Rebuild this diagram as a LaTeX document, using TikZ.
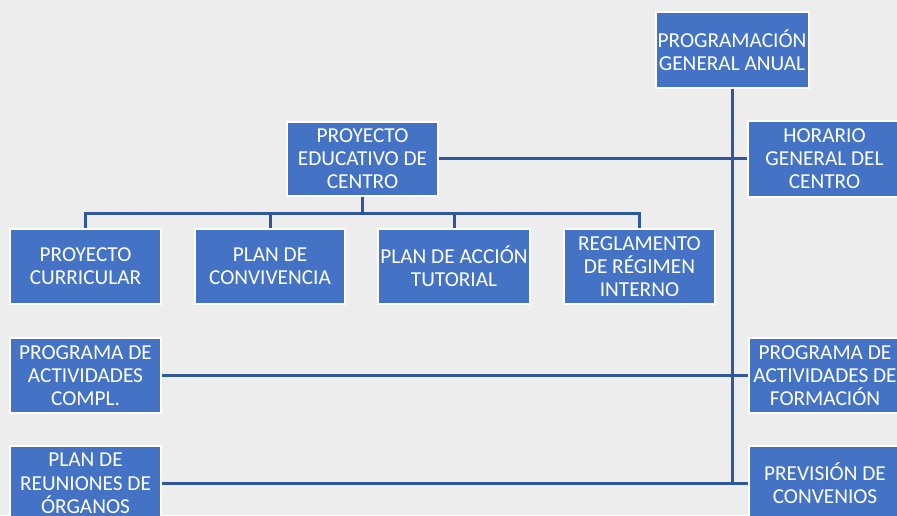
\documentclass[tikz,border=0pt]{standalone}
\usepackage{fontspec}
\setmainfont{Carlito}
\definecolor{bg}{HTML}{EDEDED}
\definecolor{boxblue}{HTML}{4472C4}
\definecolor{linkblue}{HTML}{3156A0}
\begin{document}
\begin{tikzpicture}[x=1pt,y=-1pt,
  box/.style={rectangle, fill=boxblue, draw=white, line width=2pt, text=white,
    minimum width=151pt, minimum height=75pt, inner sep=0pt, align=center,
    font=\fontsize{21.3}{23.3}\selectfont},
  link/.style={draw=linkblue, line width=3pt}]
\fill[bg] (0,0) rectangle (897,515);
\useasboundingbox (0,0) rectangle (897,515);

\node[box, minimum width=153pt, minimum height=76pt] (pga) at (732,50) {PROGRAMACIÓN\\GENERAL ANUAL};
\node[box, minimum height=74pt] (pec) at (362.5,158.5) {PROYECTO\\EDUCATIVO DE\\CENTRO};
\node[box, minimum width=153pt, minimum height=76pt] (hor) at (824.5,158.5) {HORARIO\\GENERAL DEL\\CENTRO};

\node[box] (pc) at (85.5,266.5) {PROYECTO\\CURRICULAR};
\node[box, minimum width=150pt] (conv) at (270,266.5) {PLAN DE\\CONVIVENCIA};
\node[box, minimum width=152pt] (pat) at (454,266.5) {PLAN DE ACCIÓN\\TUTORIAL};
\node[box] (rri) at (639.5,266.5) {REGLAMENTO\\DE RÉGIMEN\\INTERNO};

\node[box] (pac) at (85.5,375.5) {PROGRAMA DE\\ACTIVIDADES\\COMPL.};
\node[box, minimum width=152pt] (paf) at (825,375.5) {PROGRAMA DE\\ACTIVIDADES DE\\FORMACIÓN};

\node[box] (pro) at (85.5,483.5) {PLAN DE\\REUNIONES DE\\ÓRGANOS};
\node[box, minimum width=152pt] (prev) at (825,483.5) {PREVISIÓN DE\\CONVENIOS};

\coordinate (bot) at (732,483.5);
\coordinate (bus) at (362.5,213);

\draw[link] (pga.south) -- (bot) -- (pro.east);
\draw[link] (bot) -- (prev.west);
\draw[link] (pec.east) -- (hor.west);
\draw[link] (pac.east) -- (paf.west);

\draw[link] (pec.south) -- (bus);
\draw[link] (bus) -| (pc.north);
\draw[link] (bus) -| (conv.north);
\draw[link] (bus) -| (pat.north);
\draw[link] (bus) -| (rri.north);
\end{tikzpicture}
\end{document}
